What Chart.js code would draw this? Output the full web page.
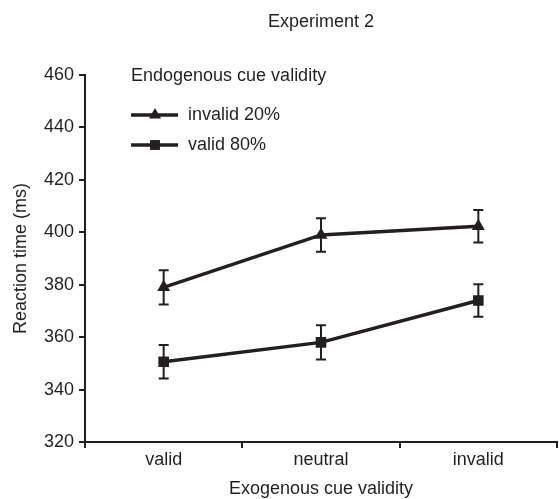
<!DOCTYPE html>
<html>
<head>
  <meta charset="UTF-8">
  <title>Experiment 2</title>
  <script src="https://cdn.jsdelivr.net/npm/chart.js"></script>
  <style>
    html, body { margin: 0; padding: 0; background: #fff; }
    #wrap { width: 559px; height: 499px; position: relative; }
  </style>
</head>
<body>
  <div id="wrap"><canvas id="rtChart"></canvas></div>

  <script>
    // datos
    const categories = ['valid', 'neutral', 'invalid'];
    const seriesLabels = ['invalid 20%', 'valid 80%'];
    const invalid20 = [379, 399, 402.3];
    const invalid20Err = [6.5, 6.4, 6.2];
    const valid80 = [350.6, 358, 374];
    const valid80Err = [6.4, 6.5, 6.2];
    const yMin = 320, yMax = 460, yStep = 20;

    const ink = '#231f20';
    const fontFamily = "'Liberation Sans', Arial, sans-serif";

    // barras de error
    const errorBars = {
      id: 'errorBars',
      afterDatasetsDraw(chart) {
        const ctx = chart.ctx;
        const y = chart.scales.y;
        ctx.save();
        ctx.strokeStyle = ink;
        ctx.lineWidth = 2;
        chart.data.datasets.forEach((ds, i) => {
          const meta = chart.getDatasetMeta(i);
          meta.data.forEach((pt, j) => {
            const v = ds.data[j], e = ds.errors[j];
            const top = y.getPixelForValue(v + e);
            const bot = y.getPixelForValue(v - e);
            ctx.beginPath();
            ctx.moveTo(pt.x, top); ctx.lineTo(pt.x, bot);
            ctx.moveTo(pt.x - 5, top); ctx.lineTo(pt.x + 5, top);
            ctx.moveTo(pt.x - 5, bot); ctx.lineTo(pt.x + 5, bot);
            ctx.stroke();
          });
        });
        ctx.restore();
      }
    };

    function marker(ctx, style, x, y, r) {
      ctx.beginPath();
      if (style === 'triangle') {
        ctx.moveTo(x, y - r);
        ctx.lineTo(x + r * Math.sqrt(3) / 2, y + r / 2);
        ctx.lineTo(x - r * Math.sqrt(3) / 2, y + r / 2);
        ctx.closePath();
      } else {
        const s = r * Math.SQRT1_2;
        ctx.rect(x - s, y - s, 2 * s, 2 * s);
      }
      ctx.fill();
    }

    // leyenda dentro del area y titulo
    const legendAndTitle = {
      id: 'legendAndTitle',
      afterDraw(chart) {
        const ctx = chart.ctx;
        const area = chart.chartArea;
        ctx.save();
        ctx.fillStyle = ink;
        ctx.strokeStyle = ink;
        ctx.font = '18px ' + fontFamily;
        ctx.textBaseline = 'middle';

        ctx.textAlign = 'center';
        ctx.fillText('Experiment 2', (area.left + area.right) / 2, 22);

        ctx.textAlign = 'left';
        ctx.fillText('Endogenous cue validity', 131, 76);
        const rows = [115, 145];
        chart.data.datasets.forEach((ds, i) => {
          const yy = rows[i];
          ctx.lineWidth = 3.5;
          ctx.beginPath();
          ctx.moveTo(131, yy); ctx.lineTo(178, yy);
          ctx.stroke();
          marker(ctx, ds.pointStyle, 155, yy, 7);
          ctx.fillText(ds.label, 188, yy);
        });
        ctx.restore();
      }
    };

    const ctx = document.getElementById('rtChart').getContext('2d');
    const chart = new Chart(ctx, {
      type: 'line',
      data: {
        labels: categories,
        datasets: [{
          label: seriesLabels[0],
          data: invalid20,
          errors: invalid20Err,
          borderColor: ink,
          backgroundColor: ink,
          borderWidth: 3.5,
          pointStyle: 'triangle',
          pointRadius: 7.5,
          pointBorderWidth: 0,
          tension: 0
        }, {
          label: seriesLabels[1],
          data: valid80,
          errors: valid80Err,
          borderColor: ink,
          backgroundColor: ink,
          borderWidth: 3.5,
          pointStyle: 'rect',
          pointRadius: 7.5,
          pointBorderWidth: 0,
          tension: 0
        }]
      },
      options: {
        responsive: true,
        maintainAspectRatio: false,
        animation: false,
        layout: { autoPadding: false, padding: { top: 75, right: 2, left: 0, bottom: 0 } },
        plugins: {
          legend: { display: false },
          title: { display: false },
          tooltip: { enabled: false }
        },
        scales: {
          x: {
            offset: true,
            grid: { offset: true, drawOnChartArea: false, drawTicks: true, tickLength: 6, color: ink, lineWidth: 2 },
            border: { display: true, color: ink, width: 2 },
            ticks: { color: ink, font: { family: fontFamily, size: 18 }, padding: 1 },
            title: { display: true, text: 'Exogenous cue validity', color: ink,
                     font: { family: fontFamily, size: 18, lineHeight: 1 }, padding: { top: 0, bottom: 1 } },
            afterFit(scale) { scale.height = 57; }
          },
          y: {
            min: yMin,
            max: yMax,
            ticks: { stepSize: yStep, color: ink, font: { family: fontFamily, size: 18 }, padding: 5 },
            grid: { drawOnChartArea: false, drawTicks: true, tickLength: 6, color: ink, lineWidth: 2 },
            border: { display: true, color: ink, width: 2 },
            title: { display: true, text: 'Reaction time (ms)', color: ink,
                     font: { family: fontFamily, size: 18, lineHeight: 1 }, padding: { top: 12, bottom: 0 } },
            afterFit(scale) { scale.width = 85; }
          }
        }
      },
      plugins: [errorBars, legendAndTitle]
    });
  </script>
</body>
</html>
